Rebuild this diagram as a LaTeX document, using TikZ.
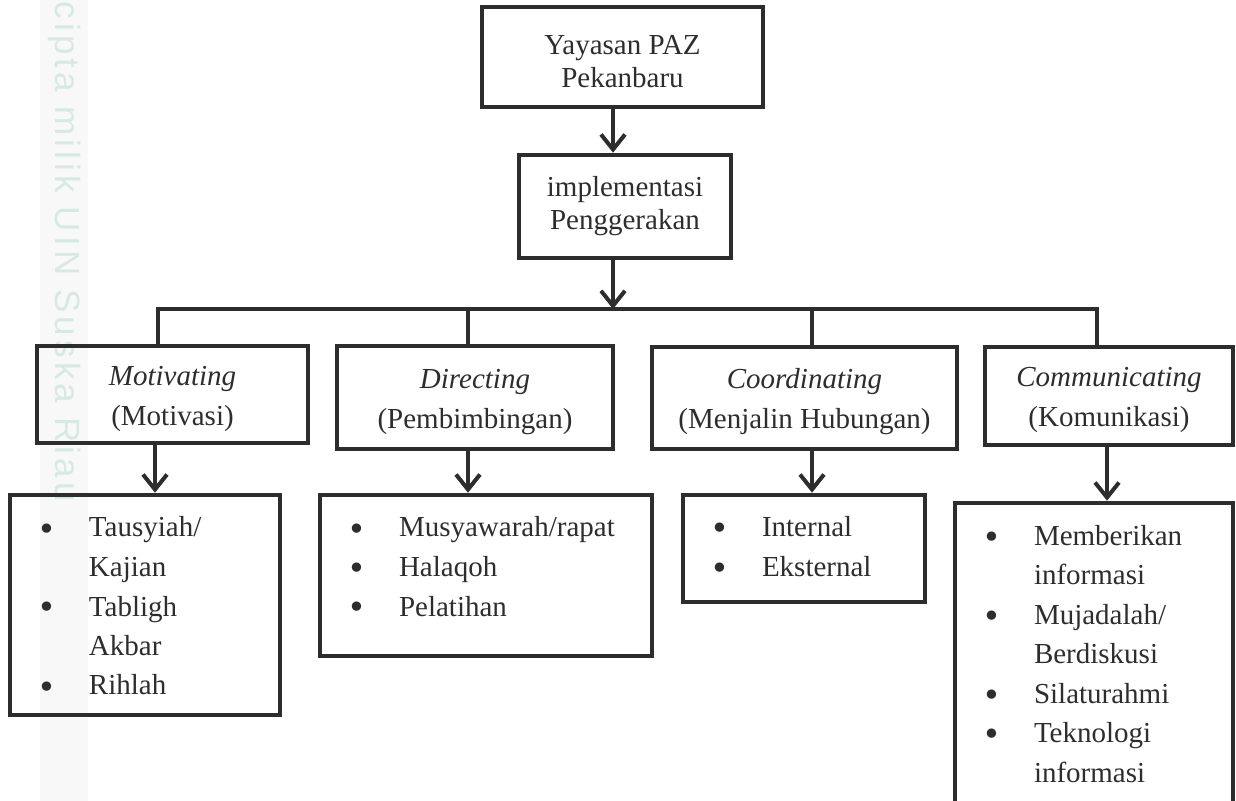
\documentclass[tikz,border=0pt]{standalone}
\usepackage{fontspec}
\setmainfont{Liberation Serif}
\newfontfamily\PazMarkFont[LetterSpace=12]{Liberation Sans}
\newfontfamily\PazDotFont{DejaVu Sans}
\usetikzlibrary{arrows.meta}

\definecolor{pazink}{RGB}{45,45,45}
\definecolor{pazmark}{RGB}{214,234,226}
\definecolor{pazband}{RGB}{248,248,248}

\def\PazBoxLW{2.3pt}
\def\PazLinkLW{2pt}
\def\PazListIndent{13.8pt}
\def\PazListText{39.5pt}
\def\PazListTop{21pt}
\newcommand{\PazChartStyles}{%
  \tikzset{
    pzframe/.style={rectangle, draw=pazink, line width=\PazBoxLW,
      text=pazink, inner sep=0pt},
    pzbox/.style={pzframe, align=center,
      font=\fontsize{14.5}{16.5}\selectfont},
    pzboxAct/.style={pzbox, font=\fontsize{14.5}{20}\selectfont},
    pzlist/.style={pzframe, font=\fontsize{14.5}{19.75}\selectfont},
    pzlink/.style={draw=pazink, line width=\PazLinkLW},
    pzarrow/.style={
      pzlink, ->,
      >={Straight Barb[length=7.5pt, width=12pt]}},
    pzmark/.style={text=pazmark, inner sep=0pt,
      font=\PazMarkFont\fontsize{17.5}{17.5}\selectfont},
  }%
}
\newcommand{\PazDrop}{\rule{0pt}{14pt}}
\newcommand{\PazDot}{\raisebox{-1.5pt}{\PazDotFont\fontsize{16}{16}\selectfont\char"2022}}
\newcommand{\PazBul}[1]{\makebox[\PazListText][l]{\hspace{\PazListIndent}\PazDot}#1}
\newcommand{\PazCont}[1]{\hspace*{\PazListText}#1}
\newcommand{\PazList}[3]{\parbox[c][#2][t]{#1}{\rule{0pt}{\PazListTop}#3}}

\begin{document}
\begin{tikzpicture}[x=0.5pt, y=-0.5pt]
  \PazChartStyles
  \useasboundingbox (0,0) rectangle (1236,801);
  \clip (0,0) rectangle (1236,801);

  % faint page mark
  \fill[pazband] (40,0) rectangle (88,801);
  \node[pzmark, rotate=-90, anchor=base west] (mark) at (55,1) {cipta milik UIN Suska Riau};

  % top
  \node[pzbox, minimum width=140.5pt, minimum height=50pt] (paz) at (622.5,57) {\PazDrop Yayasan PAZ\\Pekanbaru};
  \node[pzbox, minimum width=106pt, minimum height=51.5pt] (impl) at (625,206.5) {implementasi\\Penggerakan};

  % functions
  \node[pzboxAct, minimum width=135.5pt, minimum height=48.5pt] (mot) at (172.5,394.5) {\PazDrop\textit{Motivating}\\(Motivasi)};
  \node[pzboxAct, minimum width=138pt, minimum height=51.5pt] (dir) at (475,397.5) {\PazDrop\textit{Directing}\\(Pembimbingan)};
  \node[pzboxAct, minimum width=152.5pt, minimum height=51pt] (coo) at (804.5,398) {\PazDrop\textit{Coordinating}\\(Menjalin Hubungan)};
  \node[pzboxAct, minimum width=124pt, minimum height=49pt] (com) at (1109,396) {\PazDrop\textit{Communicating}\\(Komunikasi)};

  % activities
  \node[pzlist] (motl) at (145,605) {\PazList{135pt}{110pt}{%
    \PazBul{Tausyiah/}\\ \PazCont{Kajian}\\ \PazBul{Tabligh}\\ \PazCont{Akbar}\\ \PazBul{Rihlah}}};
  \node[pzlist] (dirl) at (486,575.5) {\PazList{166pt}{80.5pt}{%
    \PazBul{Musyawarah/rapat}\\ \PazBul{Halaqoh}\\ \PazBul{Pelatihan}}};
  \node[pzlist] (cool) at (804,548.5) {\PazList{121pt}{53.5pt}{%
    \PazBul{Internal}\\ \PazBul{Eksternal}}};
  \node[pzlist] (coml) at (1094,666.5) {\PazList{139pt}{163.5pt}{%
    \PazBul{Memberikan}\\ \PazCont{informasi}\\ \PazBul{Mujadalah/}\\ \PazCont{Berdiskusi}\\
    \PazBul{Silaturahmi}\\ \PazBul{Teknologi}\\ \PazCont{informasi}}};

  % connectors
  \coordinate (bar) at (613,309);
  \coordinate (s1) at (158,309);
  \coordinate (s2) at (468,309);
  \coordinate (s3) at (812,309);
  \coordinate (s4) at (1097,309);
  \coordinate (motcol) at (155,0);
  \coordinate (comcol) at (1107,0);

  \draw[pzarrow] (paz.south -| bar) -- (impl.north -| bar);
  \draw[pzarrow] (impl.south -| bar) -- (bar);
  \draw[pzlink] (mot.north -| s1) -- (s1) -- (s4) -- (com.north -| s4);
  \draw[pzlink] (s2) -- (dir.north -| s2);
  \draw[pzlink] (s3) -- (coo.north -| s3);

  \draw[pzarrow] (mot.south -| motcol) -- (motl.north -| motcol);
  \draw[pzarrow] (dir.south -| s2) -- (dirl.north -| s2);
  \draw[pzarrow] (coo.south -| s3) -- (cool.north -| s3);
  \draw[pzarrow] (com.south -| comcol) -- (coml.north -| comcol);
\end{tikzpicture}
\end{document}
